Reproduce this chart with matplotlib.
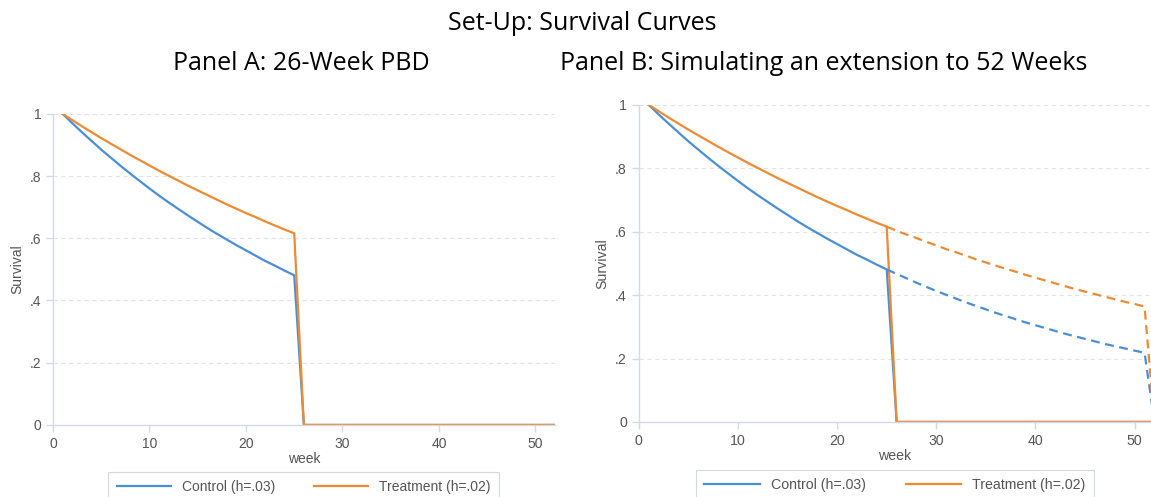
import numpy as np
import matplotlib.pyplot as plt

# survival values, weeks 1..51
weeks = list(range(1, 52))
control = [1.000, 0.970, 0.941, 0.913, 0.885, 0.859, 0.833, 0.808, 0.784, 0.760,
           0.737, 0.715, 0.694, 0.673, 0.653, 0.633, 0.614, 0.596, 0.578, 0.561,
           0.544, 0.527, 0.512, 0.496, 0.481, 0.467, 0.453, 0.439, 0.426, 0.413,
           0.401, 0.389, 0.377, 0.366, 0.355, 0.344, 0.334, 0.324, 0.314, 0.305,
           0.296, 0.287, 0.278, 0.270, 0.262, 0.254, 0.246, 0.239, 0.232, 0.225,
           0.218]
treatment = [1.000, 0.980, 0.960, 0.941, 0.922, 0.904, 0.886, 0.868, 0.851, 0.834,
             0.817, 0.801, 0.785, 0.769, 0.754, 0.739, 0.724, 0.709, 0.695, 0.681,
             0.668, 0.654, 0.641, 0.628, 0.616, 0.603, 0.591, 0.580, 0.568, 0.557,
             0.545, 0.535, 0.524, 0.513, 0.503, 0.493, 0.483, 0.474, 0.464, 0.455,
             0.446, 0.437, 0.428, 0.419, 0.411, 0.403, 0.395, 0.387, 0.379, 0.372,
             0.364]
pbd = 25          # last week of benefits (26-week PBD)
ext_last = 51     # last week of the simulated extension
end_week = 52

series = [("Control (h=.03)", control, "#4a8fd6"),
          ("Treatment (h=.02)", treatment, "#ec8b33")]

yticks = [0, 0.2, 0.4, 0.6, 0.8, 1.0]
ytick_labels = ["0", ".2", ".4", ".6", ".8", "1"]
xticks = [0, 10, 20, 30, 40, 50]

axis_col = "#d3dae6"
text_col = "#555555"

plt.rcParams["font.family"] = ["Liberation Sans", "DejaVu Sans"]

fig = plt.figure(figsize=(11.51, 4.97), dpi=100)
axA = fig.add_axes([0.046, 0.145, 0.436, 0.626])
axB = fig.add_axes([0.555, 0.151, 0.445, 0.638])


def style(ax, xmax, fs):
    ax.set_xlim(0, xmax)
    ax.set_ylim(0, 1)
    ax.set_yticks(yticks)
    ax.set_yticklabels(ytick_labels)
    ax.set_xticks(xticks)
    for s in ["top", "right"]:
        ax.spines[s].set_visible(False)
    for s in ["left", "bottom"]:
        ax.spines[s].set_color(axis_col)
        ax.spines[s].set_linewidth(1.0)
    ax.tick_params(colors=axis_col, labelcolor=text_col, labelsize=fs,
                   length=5, width=1.0)
    for y in yticks[1:]:
        ax.axhline(y, color="#e3e3e3", lw=0.8, ls=(0, (4, 3)), zorder=0)
    ax.set_ylabel("Survival", color=text_col, fontsize=fs)
    ax.set_xlabel("week", color=text_col, fontsize=fs, labelpad=1)
    ax.set_facecolor("white")


for ax in (axA, axB):
    for label, vals, col in series:
        x = weeks[:pbd] + [pbd + 1, end_week]
        y = vals[:pbd] + [0, 0]
        ax.plot(x, y, color=col, lw=1.6, label=label)

# simulated extension (dashed) in panel B
for label, vals, col in series:
    x = weeks[pbd - 1:ext_last] + [end_week]
    y = vals[pbd - 1:ext_last] + [0]
    axB.plot(x, y, color=col, lw=1.6, ls=(0, (4, 2.5)))

style(axA, 52, 10)
style(axB, 51.65, 10.2)

for ax, fs in ((axA, 10), (axB, 10.2)):
    leg = ax.legend(loc="upper center", bbox_to_anchor=(0.5, -0.15), ncol=2,
                    frameon=True, fancybox=False, fontsize=fs, handlelength=3.9,
                    columnspacing=2.8, borderpad=0.6, borderaxespad=0)
    leg.get_frame().set_edgecolor("#c9ced8")
    leg.get_frame().set_linewidth(0.8)
    for t in leg.get_texts():
        t.set_color(text_col)

tfont = ["Open Sans", "DejaVu Sans"]
fig.text(0.506, 0.952, "Set-Up: Survival Curves", ha="center", va="center",
         fontsize=18, family=tfont)
fig.text(0.262, 0.873, "Panel A: 26-Week PBD", ha="center", va="center",
         fontsize=18, family=tfont)
fig.text(0.716, 0.873, "Panel B: Simulating an extension to 52 Weeks",
         ha="center", va="center", fontsize=18, family=tfont)

fig.savefig("out.png", dpi=100)
